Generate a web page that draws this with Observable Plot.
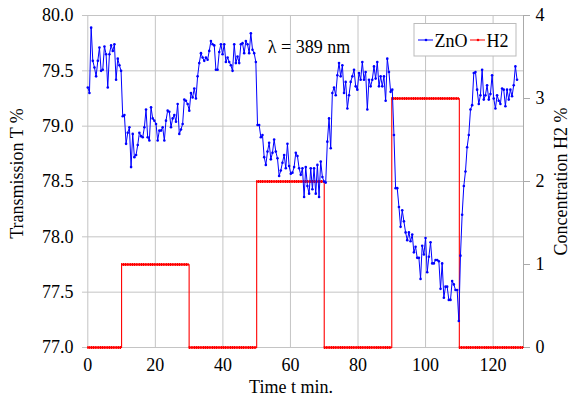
<!DOCTYPE html>
<html><head><meta charset="utf-8">
<script src="https://cdn.jsdelivr.net/npm/d3@7"></script>
<script src="https://cdn.jsdelivr.net/npm/@observablehq/plot@0.6"></script>
<style>
body{margin:0;background:#fff;}
#chart{position:relative;width:578px;height:400px;}
#chart svg, #chart svg text{font-family:"Liberation Serif","Times New Roman",serif !important;}
</style></head><body><div id="chart"></div>
<script>
const znoTime = [0.00,0.49,0.99,1.48,1.97,2.46,2.96,3.45,3.94,4.43,4.93,5.42,5.91,6.40,6.90,7.39,7.88,8.37,8.87,9.36,9.85,
10.34,10.84,11.33,11.82,12.32,12.81,13.30,13.79,14.29,14.78,15.27,15.76,16.26,16.75,17.24,17.73,18.23,18.72,19.21,19.70,
20.20,20.69,21.18,21.67,22.17,22.66,23.15,23.64,24.14,24.63,25.12,25.62,26.11,26.60,27.09,27.59,28.08,28.57,29.06,29.56,
30.05,30.54,31.03,31.53,32.02,32.51,33.00,33.50,33.99,34.48,34.97,35.47,35.96,36.45,36.94,37.44,37.93,38.42,38.91,39.41,
39.90,40.39,40.88,41.38,41.87,42.36,42.86,43.35,43.84,44.33,44.83,45.32,45.81,46.30,46.80,47.29,47.78,48.27,48.77,49.26,49.75,
50.25,50.74,51.23,51.72,52.22,52.71,53.20,53.69,54.19,54.68,55.17,55.66,56.16,56.65,57.14,57.63,58.13,58.62,59.11,59.60,
60.10,60.59,61.08,61.58,62.07,62.56,63.05,63.55,64.04,64.53,65.02,65.52,66.01,66.50,66.99,67.49,67.98,68.47,68.96,69.46,
69.95,70.44,70.93,71.43,71.92,72.41,72.90,73.40,73.89,74.38,74.87,75.37,75.86,76.35,76.85,77.34,77.83,78.32,78.82,79.31,
79.80,80.29,80.79,81.28,81.77,82.26,82.76,83.25,83.74,84.23,84.73,85.22,85.71,86.21,86.70,
87.19,87.68,88.18,88.67,89.16,89.65,90.15,
90.64,91.13,91.62,92.12,92.61,93.10,93.59,94.09,94.58,95.07,95.56,96.06,96.55,97.04,97.53,98.03,98.52,99.01,99.51,100.00,
100.49,100.98,101.48,101.97,102.46,102.95,103.45,103.94,104.43,104.92,105.42,105.91,106.40,106.89,107.39,107.88,108.37,108.86,109.36,109.85,
110.34,110.83,111.33,111.82,112.31,112.80,113.30,113.79,114.28,114.78,115.27,115.76,116.25,116.75,117.24,117.73,118.22,118.72,119.21,119.70,
120.19,120.69,121.18,121.67,122.16,122.66,123.15,123.64,124.13,124.63,125.12,125.61,126.10,126.60,127.09];
const znoT = [79.35,79.30,79.89,79.59,79.53,79.45,79.59,79.71,79.50,79.51,79.72,79.65,79.35,79.65,79.73,79.68,79.74,79.42,79.61,79.55,79.50,
79.09,79.10,78.84,78.94,78.99,78.63,78.93,78.72,78.74,78.83,78.94,78.91,78.90,78.99,79.15,78.90,78.87,79.17,79.07,79.05,
79.02,78.87,78.96,78.96,78.99,78.87,79.05,79.14,79.13,78.99,79.07,79.10,79.04,79.20,78.93,78.97,79.02,79.24,79.23,79.20,
79.14,79.30,79.26,79.34,79.25,79.45,79.57,79.66,79.62,79.59,79.62,79.60,79.68,79.77,79.74,79.73,79.51,79.51,79.67,79.74,
79.65,79.74,79.58,79.62,79.58,79.55,79.50,79.74,79.57,79.63,79.57,79.74,79.75,79.66,79.77,79.74,79.66,79.84,79.69,79.66,79.58,
79.01,79.01,78.90,78.92,78.72,78.65,78.77,78.85,78.70,78.76,78.88,78.77,78.71,78.55,78.60,78.67,78.74,78.62,78.84,78.64,
78.57,78.58,78.63,78.76,78.73,78.62,78.56,78.62,78.36,78.63,78.46,78.39,78.62,78.43,78.62,78.39,78.65,78.36,78.68,78.54,
78.50,78.49,78.86,79.07,78.80,79.30,79.35,79.28,79.46,79.57,79.45,79.55,79.30,79.40,79.16,79.28,79.40,79.45,79.51,79.36,
79.33,79.48,79.42,79.58,79.42,79.49,79.15,79.42,79.36,79.42,79.54,79.43,79.58,79.36,79.45,
79.36,79.45,79.23,79.61,79.49,79.31,79.33,
78.92,78.44,78.44,78.27,78.09,78.24,78.14,78.04,77.97,78.04,77.96,78.02,77.86,77.91,77.81,77.81,77.62,77.92,77.84,77.99,
77.68,77.82,77.95,77.76,77.76,77.79,77.79,77.78,77.53,77.76,77.45,77.55,77.55,77.43,77.43,77.60,77.57,77.52,77.52,77.24,
77.83,78.20,78.46,78.59,78.81,78.92,79.15,79.19,79.48,79.49,79.33,79.20,79.28,79.51,79.24,79.28,79.37,79.24,79.29,79.46,
79.25,79.16,79.28,79.23,79.20,79.34,79.33,79.18,79.33,79.24,79.33,79.27,79.37,79.54,79.42];

// H2 concentration steps (%)
const h2Time = [0,10,10,30,30,50,50,70,70,90,90,110,110,129];
const h2Conc = [0,0,1,1,0,0,2,2,0,0,3,3,0,0];
const h2SegStart = [0,10,30,50,70,90,110];
const h2SegEnd   = [10,30,50,70,90,110,129];
const h2SegLevel = [0,1,0,2,0,3,0];

const xTicks = [0,20,40,60,80,100,120];
const yTicks = [77,77.5,78,78.5,79,79.5,80];
const h2Ticks = [0,1,2,3,4];

const T_MIN = 77, T_MAX = 80, C_MAX = 4;
const toT = c => T_MIN + c * (T_MAX - T_MIN) / C_MAX;
const toC = t => (t - T_MIN) * C_MAX / (T_MAX - T_MIN);

const zno = znoTime.map((t, i) => ({t, v: znoT[i]}));
const h2 = h2Time.map((t, i) => ({t, v: toT(h2Conc[i])}));
const h2Seg = h2SegStart.map((s, i) => ({s, e: h2SegEnd[i], v: toT(h2SegLevel[i])}));

const FS = 18;
const FF = '"Liberation Serif","Times New Roman",serif';
const grid = "#c4c4c4";

const plot = Plot.plot({
  width: 578, height: 400,
  marginLeft: 82, marginRight: 55, marginTop: 15, marginBottom: 53,
  style: {fontSize: FS+"px", background: "#fff", color: "#000"},
  x: {domain: [-1.57, 129.0], label: null},
  y: {domain: [T_MIN, T_MAX], label: null},
  marks: [
    Plot.gridX(xTicks, {stroke: grid, strokeOpacity: 1}),
    Plot.gridY(yTicks, {stroke: grid, strokeOpacity: 1}),
    Plot.axisX(xTicks, {tickSize: 0, tickPadding: 11, fontSize: FS, fontFamily: FF, label: null}),
    Plot.axisY(yTicks, {anchor: "left", tickSize: 0, tickPadding: 9, fontSize: FS, fontFamily: FF, tickFormat: d3.format(".1f"), label: null}),
    Plot.axisY(h2Ticks.map(toT), {anchor: "right", tickSize: 6, tickPadding: 6, fontSize: FS, fontFamily: FF, stroke: "#aaa", tickFormat: v => String(Math.round(toC(v))), label: null}),
    Plot.frame({anchor: "right", stroke: "#aaa"}),
    Plot.line(h2, {x: "t", y: "v", stroke: "#ff0000", strokeWidth: 1.1}),
    Plot.ruleY(h2Seg, {y: "v", x1: "s", x2: "e", stroke: "#ff0000", strokeWidth: 3.2, strokeDasharray: "1.4 0.4"}),
    Plot.line(zno, {x: "t", y: "v", stroke: "#0000ff", strokeWidth: 1}),
    Plot.dot(zno, {x: "t", y: "v", r: 1.3, fill: "#0000ff", stroke: null}),
    Plot.text(["λ = 389 nm"], {frameAnchor: "top", dx: 6, dy: 25, fontSize: FS, fontFamily: FF}),
    Plot.text(["Time t min."], {frameAnchor: "bottom", dx: -12, dy: 45, fontSize: FS, fontFamily: FF}),
    Plot.text(["Transmission T %"], {frameAnchor: "left", textAnchor: "middle", dx: -65, dy: -8, rotate: -90, fontSize: FS, fontFamily: FF}),
    Plot.text(["Concentration H2 %"], {frameAnchor: "right", textAnchor: "middle", dx: 38, rotate: -90, fontSize: FS, fontFamily: FF})
  ]
});
document.getElementById("chart").appendChild(plot);

// legend
const svg = d3.select(plot);
const lg = svg.append("g").attr("font-size", FS).attr("font-family", FF).attr("text-anchor", "start");
lg.append("rect").attr("x", 414).attr("y", 23.5).attr("width", 102).attr("height", 32.5)
  .attr("fill", "#fff").attr("stroke", "#bbb");
const items = [{name: "ZnO", color: "#0000ff", x: 418}, {name: "H2", color: "#ff0000", x: 470}];
items.forEach(it => {
  lg.append("line").attr("x1", it.x).attr("x2", it.x + 15).attr("y1", 40).attr("y2", 40)
    .attr("stroke", it.color).attr("stroke-width", 1);
  lg.append("circle").attr("cx", it.x + 8).attr("cy", 40).attr("r", 1.3).attr("fill", it.color);
  lg.append("text").attr("x", it.x + 16.5).attr("y", 46.5).attr("text-anchor", "start").text(it.name);
});
</script>
</body></html>
